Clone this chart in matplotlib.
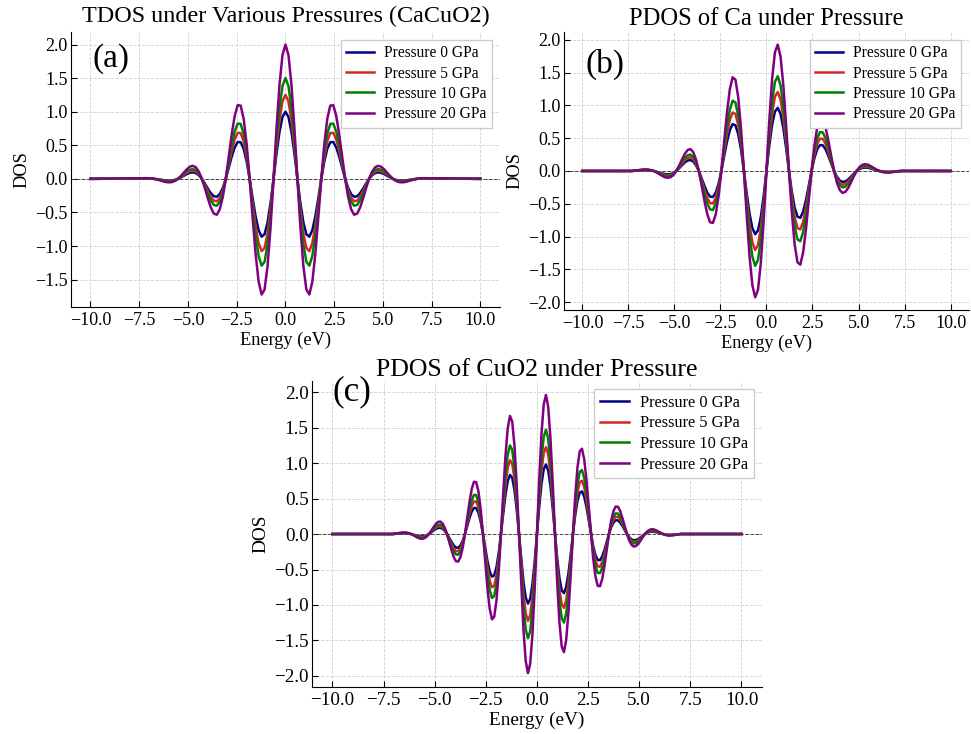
import numpy as np
import matplotlib.pyplot as plt

plt.rcParams["font.family"] = ["Liberation Serif", "DejaVu Serif"]

# pressures and how strongly each one scales the 0 GPa curve
PRESSURES = [0, 5, 10, 20]
PRESSURE_SCALE = [1.0, 1.25, 1.5, 2.0]
COLORS = ["darkblue", "#d62728", "green", "purple"]

# energy grids (eV), curve read every 1/16 period, flat outside
ENERGY_A = np.r_[-10.0, np.linspace(-7.35, 7.35, 97), 10.0]
ENERGY_B = np.r_[-10.0, np.linspace(-7.35, 7.35, 97), 10.0]
ENERGY_C = np.r_[-10.0, np.linspace(-7.04, 7.04, 129), 10.0]

# total DOS at 0 GPa
TDOS_0 = [
    0.0,
    0.004, 0.005, 0.005, 0.003, 0.000, -0.005, -0.011, -0.018, -0.024, -0.026, -0.024, -0.015,
    0.000, 0.022, 0.047, 0.072, 0.091, 0.097, 0.086, 0.053, 0.000, -0.069, -0.145, -0.213,
    -0.259, -0.267, -0.227, -0.136, 0.000, 0.164, 0.331, 0.469, 0.549, 0.545, 0.447, 0.257,
    0.000, -0.288, -0.559, -0.764, -0.861, -0.824, -0.650, -0.361, 0.000, 0.375, 0.701, 0.922,
    1.000,
    0.922, 0.701, 0.375, 0.000, -0.361, -0.650, -0.824, -0.861, -0.764, -0.559, -0.288, 0.000,
    0.257, 0.447, 0.545, 0.549, 0.469, 0.331, 0.164, 0.000, -0.136, -0.227, -0.267, -0.259,
    -0.213, -0.145, -0.069, 0.000, 0.053, 0.086, 0.097, 0.091, 0.072, 0.047, 0.022, 0.000,
    -0.015, -0.024, -0.026, -0.024, -0.018, -0.011, -0.005, 0.000, 0.003, 0.005, 0.005, 0.004,
    0.0,
]

# Ca partial DOS at 0 GPa
PDOS_CA_0 = [
    0.0,
    0.000, 0.002, 0.005, 0.008, 0.011, 0.012, 0.011, 0.007, 0.000, -0.011, -0.024, -0.037,
    -0.048, -0.052, -0.047, -0.030, 0.000, 0.040, 0.086, 0.129, 0.159, 0.167, 0.145, 0.088,
    0.000, -0.111, -0.227, -0.329, -0.391, -0.396, -0.331, -0.194, 0.000, 0.226, 0.447, 0.622,
    0.714, 0.696, 0.559, 0.316, 0.000, -0.341, -0.650, -0.871, -0.963, -0.905, -0.701, -0.382,
    0.000,
    0.382, 0.701, 0.905, 0.963, 0.871, 0.650, 0.341, 0.000, -0.316, -0.559, -0.696, -0.714,
    -0.622, -0.447, -0.226, 0.000, 0.194, 0.331, 0.396, 0.391, 0.329, 0.227, 0.111, 0.000,
    -0.088, -0.145, -0.167, -0.159, -0.129, -0.086, -0.040, 0.000, 0.030, 0.047, 0.052, 0.048,
    0.037, 0.024, 0.011, 0.000, -0.007, -0.011, -0.012, -0.011, -0.008, -0.005, -0.002, 0.000,
    0.0,
]

# CuO2 partial DOS at 0 GPa
PDOS_CUO2_0 = [
    0.0,
    0.000, 0.002, 0.005, 0.008, 0.010, 0.011, 0.010, 0.006, 0.000, -0.008, -0.017, -0.026, -0.032, -0.034, -0.029, -0.018,
    0.000, 0.023, 0.048, 0.070, 0.085, 0.088, 0.075, 0.045, 0.000, -0.055, -0.112, -0.162, -0.192, -0.194, -0.162, -0.096,
    0.000, 0.113, 0.225, 0.317, 0.368, 0.365, 0.299, 0.173, 0.000, -0.195, -0.382, -0.527, -0.601, -0.583, -0.468, -0.265,
    0.000, 0.287, 0.551, 0.745, 0.832, 0.792, 0.623, 0.345, 0.000, -0.360, -0.675, -0.895, -0.980, -0.913, -0.704, -0.382,
    0.000,
    0.382, 0.704, 0.913, 0.980, 0.895, 0.675, 0.360, 0.000, -0.345, -0.623, -0.792, -0.832, -0.745, -0.551, -0.287, 0.000,
    0.265, 0.468, 0.583, 0.601, 0.527, 0.382, 0.195, 0.000, -0.173, -0.299, -0.365, -0.368, -0.317, -0.225, -0.113, 0.000,
    0.096, 0.162, 0.194, 0.192, 0.162, 0.112, 0.055, 0.000, -0.045, -0.075, -0.088, -0.085, -0.070, -0.048, -0.023, 0.000,
    0.018, 0.029, 0.034, 0.032, 0.026, 0.017, 0.008, 0.000, -0.006, -0.010, -0.011, -0.010, -0.008, -0.005, -0.002, 0.000,
    0.0,
]

XTICKS = [-10.0, -7.5, -5.0, -2.5, 0.0, 2.5, 5.0, 7.5, 10.0]
YTICKS_A = [-1.5, -1.0, -0.5, 0.0, 0.5, 1.0, 1.5, 2.0]
YTICKS_BC = [-2.0, -1.5, -1.0, -0.5, 0.0, 0.5, 1.0, 1.5, 2.0]


def draw_panel(ax, energy, dos, yticks, title, tag, tag_pos, fs=1.0, title_size=17.5, title_pad=4.5):
    dos = np.array(dos)
    for p, s, c in zip(PRESSURES, PRESSURE_SCALE, COLORS):
        ax.plot(energy, dos * s, color=c, lw=1.8, label=f"Pressure {p} GPa")
    ax.axhline(0, color="#444444", ls="--", lw=0.7)
    ax.set_title(title, fontsize=title_size, pad=title_pad)
    ax.set_xlabel("Energy (eV)", fontsize=13.2 * fs, labelpad=2)
    ax.set_ylabel("DOS", fontsize=13.2 * fs, labelpad=3)
    ax.set_xticks(XTICKS)
    ax.set_yticks(yticks)
    ax.set_yticklabels([f"{v:.1f}".replace("-", "\u2212") for v in yticks])
    ax.grid(True, ls="--", color="#d0d0d0", lw=0.6)
    ax.set_axisbelow(True)
    for side in ["top", "right"]:
        ax.spines[side].set_visible(False)
    ax.tick_params(direction="in", labelsize=13 * fs, length=4)
    ax.tick_params(axis="y", pad=2.5)
    ax.legend(loc="upper right", fontsize=11.2 * fs, frameon=True, fancybox=False,
              edgecolor="#cccccc", framealpha=1, handlelength=1.8, labelspacing=0.28,
              borderpad=0.35, handletextpad=0.65)
    ax.text(tag_pos[0], tag_pos[1], tag, transform=ax.transAxes, fontsize=24 * fs,
            va="top", ha="left")


fig = plt.figure(figsize=(9.71, 7.34), dpi=100)
ax_a = fig.add_axes([0.0731, 0.5817, 0.4418, 0.3747])
ax_b = fig.add_axes([0.5808, 0.5777, 0.4171, 0.3787])
ax_c = fig.add_axes([0.3213, 0.0640, 0.4634, 0.4169])

draw_panel(ax_a, ENERGY_A, TDOS_0, YTICKS_A, "TDOS under Various Pressures (CaCuO2)", "(a)",
           (0.05, 0.96), title_size=17.4, title_pad=7)
draw_panel(ax_b, ENERGY_B, PDOS_CA_0, YTICKS_BC, "PDOS of Ca under Pressure", "(b)",
           (0.052, 0.94), title_size=17.7, title_pad=5)
draw_panel(ax_c, ENERGY_C, PDOS_CUO2_0, YTICKS_BC, "PDOS of CuO2 under Pressure", "(c)",
           (0.045, 1.02), fs=1.05, title_size=18.6, title_pad=1)

fig.savefig("out.png", dpi=100)
